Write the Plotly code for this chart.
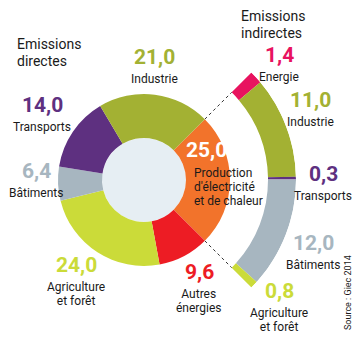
import plotly.graph_objects as go
import numpy as np

# ---- data ----
direct_labels = ["Production d'électricité et de chaleur", "Autres énergies", "Agriculture et forêt",
                 "Bâtiments", "Transports", "Industrie"]
direct_values = [25.0, 9.6, 24.0, 6.4, 14.0, 21.0]
direct_colors = ["#f2732b", "#ed1c24", "#cbdb39", "#a7b6c0", "#5e3080", "#a3b133"]

indirect_labels = ["Energie", "Industrie", "Transports", "Bâtiments", "Agriculture et forêt"]
indirect_values = [1.4, 11.0, 0.3, 12.0, 0.8]
indirect_colors = ["#e8135f", "#a3b133", "#5e3080", "#a7b6c0", "#cbdb39"]

W, H = 360, 342
CX, CY = 144, 180          # donut centre (px)
R_OUT, R_IN = 86, 42       # direct donut radii (px)
A_IN, A_OUT = 124, 152     # indirect arc radii (px)

FONT = "Roboto, Liberation Sans, sans-serif"
VSIZE = 21
LSIZE = 12
TSIZE = 14


def px(x):
    return x / W


def py(y):
    return 1 - y / H


fig = go.Figure()

# direct emissions donut
fig.add_trace(go.Pie(
    labels=direct_labels, values=direct_values,
    marker=dict(colors=direct_colors, line=dict(width=0)),
    sort=False, direction="clockwise", rotation=45, hole=R_IN / R_OUT,
    textinfo="none", hoverinfo="label+value",
    domain=dict(x=[px(CX - R_OUT), px(CX + R_OUT)], y=[py(CY + R_OUT), py(CY - R_OUT)]),
))

# indirect emissions arc (polar bars)
vals = np.array(indirect_values)
k = 90.0 / vals.sum()
cum = np.cumsum(vals)
theta = (cum - vals / 2) * k
width = vals * k
fig.add_trace(go.Barpolar(
    r=[A_OUT - A_IN] * len(vals), base=A_IN, theta=theta, width=width,
    marker=dict(color=indirect_colors, line=dict(width=0)),
    hovertext=indirect_labels, hoverinfo="text", subplot="polar",
))
# dotted connectors
for t in [0, 90]:
    fig.add_trace(go.Scatterpolar(
        r=[R_OUT, A_IN], theta=[t, t], mode="lines",
        line=dict(color="#333333", width=1, dash="dot"),
        hoverinfo="skip", subplot="polar",
    ))

SEC = 47
s = np.sin(np.radians(SEC))
fig.update_layout(
    width=W, height=H, margin=dict(l=0, r=0, t=0, b=0),
    paper_bgcolor="white", plot_bgcolor="white", showlegend=False,
    polar=dict(
        domain=dict(x=[px(CX), px(CX + A_OUT)], y=[py(CY + A_OUT * s), py(CY - A_OUT * s)]),
        sector=[-SEC, SEC], bgcolor="rgba(0,0,0,0)",
        radialaxis=dict(range=[0, A_OUT], visible=False, showgrid=False),
        angularaxis=dict(rotation=45, direction="clockwise", visible=False, showgrid=False),
    ),
    shapes=[dict(type="circle", xref="paper", yref="paper",
                 x0=px(CX - R_IN), x1=px(CX + R_IN), y0=py(CY + R_IN), y1=py(CY - R_IN),
                 fillcolor="#e6eef3", line=dict(width=0), layer="below")],
)


def fmt(v):
    return f"{v:.1f}".replace(".", ",")


def sp(text, size, color=None, bold=False):
    st = f"font-size:{size}px"
    if color:
        st += f";color:{color}"
    t = f"<b>{text}</b>" if bold else text
    return f"<span style='{st}'>{t}</span>"


def lines(parts, size):
    return "<br>".join(sp(p, size) for p in parts)


ann = []


def add(text, x, y, size, color="#1a1a1a", xanchor="center", yanchor="top", align="center", angle=0):
    ann.append(dict(text=text, x=px(x), y=py(y), xref="paper", yref="paper", showarrow=False,
                    xanchor=xanchor, yanchor=yanchor, align=align, textangle=angle, borderpad=0,
                    font=dict(family=FONT, size=size, color=color)))


BASE = LSIZE * 1.18 / 1.3   # tight, non-overlapping line spacing for labels


def block(value, color, label_lines, x, digit_top):
    yb = digit_top + 20.1
    add(sp(fmt(value), VSIZE, color, bold=True), x, yb, VSIZE, yanchor="bottom")
    add(lines(label_lines, LSIZE), x, yb + 0.6, BASE)


# titles
add(lines(["Emissions", "directes"], TSIZE), 16, 35, TSIZE * 1.18 / 1.3, xanchor="left", align="left")
add(lines(["Emissions", "indirectes"], TSIZE), 240, 7, TSIZE * 1.18 / 1.3, xanchor="left", align="left")

split = {"Agriculture et forêt": ["Agriculture", "et forêt"], "Autres énergies": ["Autres", "énergies"]}

d_pos = {  # centre x, top of digits
    "Industrie": (154, 50),
    "Transports": (42, 98),
    "Bâtiments": (36, 164),
    "Agriculture et forêt": (76, 258),
    "Autres énergies": (199, 265),
}
for lab, v, c in zip(direct_labels, direct_values, direct_colors):
    if lab in d_pos:
        x, top = d_pos[lab]
        block(v, c, split.get(lab, [lab]), x, top)

# production: white value inside the slice, label left-aligned below
add(sp(fmt(direct_values[0]), VSIZE, "white", bold=True), 206, 143 + 20.1, VSIZE, yanchor="bottom")
add(lines(["Production", "d'électricité", "et de chaleur"], LSIZE), 193, 165, BASE,
    xanchor="left", align="left")

i_pos = {
    "Energie": (279, 48),
    "Industrie": (310, 93),
    "Transports": (323, 167),
    "Bâtiments": (313, 236),
    "Agriculture et forêt": (279, 284),
}
for lab, v, c in zip(indirect_labels, indirect_values, indirect_colors):
    x, top = i_pos[lab]
    block(v, c, split.get(lab, [lab]), x, top)

add("Source : Giec 2014", 348, 293, 9, yanchor="middle", angle=-90)

fig.update_layout(annotations=ann)
fig.write_html("out.html")
